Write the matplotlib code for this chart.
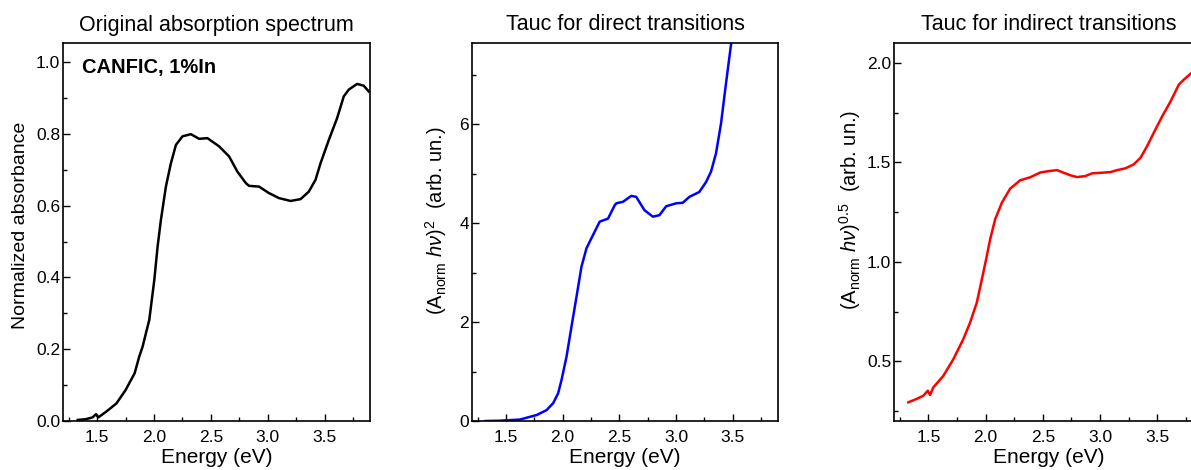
import numpy as np
import matplotlib
matplotlib.use('Agg')
import matplotlib.pyplot as plt
from matplotlib.ticker import MultipleLocator, FormatStrFormatter

plt.rcParams['font.family'] = ['Liberation Sans', 'DejaVu Sans']
plt.rcParams['mathtext.fontset'] = 'custom'
plt.rcParams['mathtext.rm'] = 'Liberation Sans'
plt.rcParams['mathtext.it'] = 'Liberation Sans:italic'

# original absorption spectrum
abs_energy = [1.33, 1.40, 1.46, 1.49, 1.51, 1.58, 1.67, 1.75, 1.83, 1.87, 1.90, 1.959, 2.003,
              2.032, 2.061, 2.105, 2.149, 2.193, 2.251, 2.325, 2.397, 2.470, 2.573, 2.661,
              2.733, 2.807, 2.836, 2.924, 3.011, 3.099, 3.202, 3.289, 3.362, 3.421, 3.465,
              3.538, 3.611, 3.669, 3.713, 3.786, 3.845, 3.889]
absorbance = [0.003, 0.005, 0.010, 0.019, 0.010, 0.026, 0.049, 0.086, 0.133, 0.179, 0.207, 0.282, 0.393,
              0.486, 0.560, 0.653, 0.718, 0.769, 0.793, 0.799, 0.786, 0.788, 0.765, 0.737,
              0.695, 0.663, 0.655, 0.653, 0.635, 0.621, 0.613, 0.618, 0.639, 0.672, 0.718,
              0.783, 0.844, 0.904, 0.923, 0.939, 0.934, 0.918]

# Tauc plot, direct transitions
dir_energy = [1.32, 1.447, 1.623, 1.77, 1.858, 1.916, 1.96, 1.99, 2.034, 2.078, 2.122, 2.166,
              2.21, 2.268, 2.327, 2.40, 2.459, 2.474, 2.532, 2.605, 2.649, 2.722, 2.796,
              2.854, 2.913, 3.001, 3.059, 3.118, 3.206, 3.265, 3.309, 3.353, 3.397, 3.441,
              3.485, 3.50]
dir_tauc = [0.0, 0.006, 0.03, 0.12, 0.22, 0.36, 0.56, 0.83, 1.30, 1.91, 2.51, 3.12,
            3.49, 3.76, 4.03, 4.09, 4.36, 4.40, 4.43, 4.55, 4.53, 4.26, 4.13,
            4.16, 4.34, 4.40, 4.41, 4.53, 4.63, 4.83, 5.04, 5.41, 6.01, 6.82,
            7.60, 7.80]

# Tauc plot, indirect transitions
ind_energy = [1.325, 1.398, 1.456, 1.495, 1.515, 1.544, 1.631, 1.719, 1.806, 1.865, 1.924,
              1.968, 2.005, 2.04, 2.084, 2.143, 2.215, 2.303, 2.39, 2.478, 2.551, 2.624,
              2.682, 2.741, 2.80, 2.872, 2.931, 3.018, 3.091, 3.15, 3.222, 3.295, 3.354,
              3.412, 3.47, 3.544, 3.617, 3.689, 3.733, 3.80, 3.85, 3.90]
ind_tauc = [0.294, 0.311, 0.327, 0.352, 0.331, 0.369, 0.427, 0.511, 0.612, 0.695, 0.796,
            0.913, 1.013, 1.113, 1.214, 1.298, 1.368, 1.41, 1.425, 1.449, 1.456, 1.461,
            1.448, 1.435, 1.426, 1.431, 1.445, 1.448, 1.451, 1.461, 1.47, 1.49, 1.523,
            1.582, 1.649, 1.732, 1.807, 1.891, 1.916, 1.95, 1.97, 1.99]

fig = plt.figure(figsize=(11.91, 4.70), dpi=100)
W, H = 1191, 470
boxes = [(63, 307), (472, 306), (894, 309)]
axes = [fig.add_axes([l / W, (H - 421) / H, w / W, 378 / H]) for l, w in boxes]

def style(ax, ymajor, yminor):
    ax.set_xlim(1.2, 3.9)
    ax.xaxis.set_major_locator(MultipleLocator(0.5))
    ax.xaxis.set_minor_locator(MultipleLocator(0.25))
    ax.yaxis.set_major_locator(MultipleLocator(ymajor))
    ax.yaxis.set_minor_locator(MultipleLocator(yminor))
    ax.tick_params(which='both', direction='in', top=False, right=False, labelsize=12.5, width=1)
    ax.tick_params(which='major', length=5)
    ax.tick_params(which='minor', length=3)
    ax.tick_params(axis='x', pad=6.5)
    ax.tick_params(axis='y', pad=2)
    for s in ax.spines.values():
        s.set_linewidth(1.2)
    ax.set_xlabel('Energy (eV)', fontsize=15, labelpad=2)

ax = axes[0]
ax.plot(abs_energy, absorbance, color='black', lw=1.8)
ax.set_ylim(0, 1.053)
style(ax, 0.2, 0.1)
ax.yaxis.set_major_formatter(FormatStrFormatter('%.1f'))
ax.set_ylabel('Normalized absorbance', fontsize=14)
ax.yaxis.set_label_coords(-0.111, 0.518)
ax.set_title('Original absorption spectrum', fontsize=15.5, pad=9)
ax.text(1.371, 0.984, 'CANFIC, 1%In', fontsize=14.5, fontweight='bold', va='center')

ax = axes[1]
ax.plot(dir_energy, dir_tauc, color='#0000ff', lw=1.8)
ax.set_ylim(0, 7.64)
style(ax, 2, 1)
ax.set_ylabel(r'(A$_{\mathrm{norm}}$ $\mathit{h\nu}$)$^2$  (arb. un.)', fontsize=14.5)
ax.yaxis.set_label_coords(-0.075, 0.529)
ax.set_title('Tauc for direct transitions', fontsize=15.5, pad=9)

ax = axes[2]
ax.plot(ind_energy, ind_tauc, color='#ff0000', lw=1.8)
ax.set_ylim(0.2, 2.1)
style(ax, 0.5, 0.25)
ax.yaxis.set_major_formatter(FormatStrFormatter('%.1f'))
ax.set_ylabel(r'(A$_{\mathrm{norm}}$ $\mathit{h\nu}$)$^{0.5}$  (arb. un.)', fontsize=14.5)
ax.yaxis.set_label_coords(-0.10, 0.558)
ax.set_title('Tauc for indirect transitions', fontsize=15.5, pad=9)

fig.savefig('out.png', dpi=100)
